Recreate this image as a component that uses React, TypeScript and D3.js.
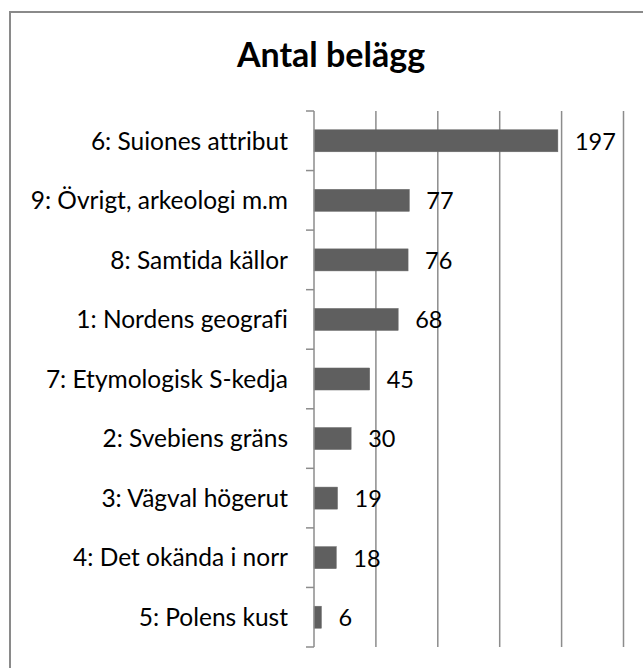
import React from "react";
import * as d3 from "d3";

const categories = [
  "6: Suiones attribut",
  "9: Övrigt, arkeologi m.m",
  "8: Samtida källor",
  "1: Nordens geografi",
  "7: Etymologisk S-kedja",
  "2: Svebiens gräns",
  "3: Vägval högerut",
  "4: Det okända i norr",
  "5: Polens kust",
];
const values = [197, 77, 76, 68, 45, 30, 19, 18, 6];
const xTicks = [0, 50, 100, 150, 200, 250];
const title = "Antal belägg";

const W = 643;
const H = 668;
const FONT = "Lato, 'Open Sans', sans-serif";
const noLig = { fontVariantLigatures: "none" as const, fontFeatureSettings: "'liga' 0, 'clig' 0" };

export default function App() {
  const x = d3.scaleLinear().domain([0, 250]).range([314, 623.5]);
  const y = d3
    .scaleBand<string>()
    .domain(categories)
    .range([111, 647])
    .paddingInner(0.63)
    .paddingOuter(0.315);
  const step = y.step();
  const top = 111;
  const bottom = 647;
  const tickYs = d3.range(categories.length + 1).map((i) => top + i * step);

  return (
    <svg
      width={W}
      height={H}
      style={{ position: "absolute", left: 0, top: 0, background: "#fff" }}
    >
      <rect x={0} y={0} width={W} height={H} fill="#fff" />
      <rect
        x={10}
        y={12}
        width={800}
        height={800}
        fill="#fff"
        stroke="#8a8a8a"
        strokeWidth={2}
      />
      <text
        x={331}
        y={66.5}
        textAnchor="middle"
        fontFamily={FONT}
        fontWeight={700}
        fontSize={34}
        fill="#000"
        style={noLig}
      >
        {title}
      </text>
      {xTicks.slice(1).map((t) => (
        <line
          key={t}
          x1={x(t)}
          x2={x(t)}
          y1={top}
          y2={bottom}
          stroke="#8c8c8c"
          strokeWidth={1.5}
        />
      ))}
      {categories.map((c, i) => (
        <rect
          key={c}
          x={x(0)}
          y={y(c)!}
          width={x(values[i]) - x(0)}
          height={y.bandwidth()}
          fill="#5f5f5f"
          stroke="#6a6a6a"
          strokeWidth={0.5}
        />
      ))}
      <line
        x1={x(0)}
        x2={x(0)}
        y1={top}
        y2={bottom}
        stroke="#8c8c8c"
        strokeWidth={1.5}
      />
      {tickYs.map((ty, i) => (
        <line
          key={i}
          x1={x(0) - 8}
          x2={x(0)}
          y1={ty}
          y2={ty}
          stroke="#8c8c8c"
          strokeWidth={1.5}
        />
      ))}
      {categories.map((c) => (
        <text
          key={c}
          x={288}
          y={y(c)! + y.bandwidth() / 2}
          dy="0.36em"
          textAnchor="end"
          fontFamily={FONT}
          fontSize={24.5}
          fill="#000"
          style={noLig}
        >
          {c}
        </text>
      ))}
      {categories.map((c, i) => (
        <text
          key={c + "v"}
          x={x(values[i]) + 17}
          y={y(c)! + y.bandwidth() / 2}
          dy="0.38em"
          textAnchor="start"
          fontFamily={FONT}
          fontSize={23.5}
          fill="#000"
          style={noLig}
        >
          {values[i]}
        </text>
      ))}
    </svg>
  );
}
